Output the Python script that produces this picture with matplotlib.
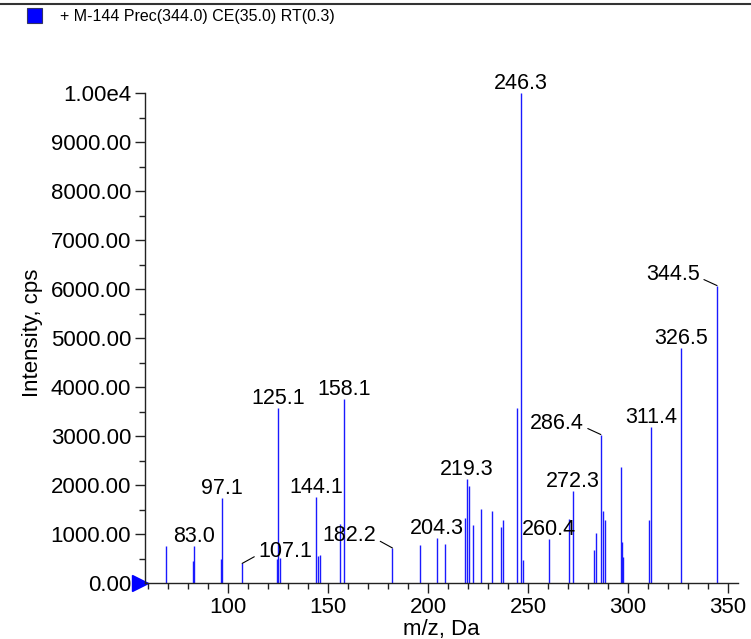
import matplotlib
matplotlib.use('Agg')
import matplotlib.pyplot as plt
from matplotlib.patches import Rectangle
from matplotlib.ticker import MultipleLocator, FuncFormatter
from matplotlib import font_manager
import matplotlib.transforms as mtransforms

plt.rcParams['font.family'] = ['Liberation Sans', 'DejaVu Sans']

# peak list (m/z, intensity in cps)
mz = [69.1, 82.7, 83.0, 96.3, 97.1, 107.1, 124.3, 125.1, 126.1, 144.1,
      145.0, 146.0, 155.9, 158.1, 182.2, 196.1, 204.3, 208.4, 218.5, 219.3,
      220.3, 222.3, 226.4, 232.2, 236.4, 237.4, 244.3, 246.3, 247.3, 260.4,
      270.3, 272.3, 283.2, 284.2, 286.4, 287.4, 288.5, 296.3, 297.0, 297.6,
      310.4, 311.4, 326.5, 344.5]
intensity = [750, 440, 760, 500, 1730, 400, 500, 3580, 510, 1755,
             545, 580, 1200, 3755, 715, 780, 925, 790, 1320, 2120,
             1970, 1190, 1515, 1465, 1145, 1295, 3570, 10000, 475, 900,
             1300, 1885, 665, 1015, 3030, 1475, 1295, 2365, 845, 525,
             1295, 3185, 4795, 6070]

# labelled peaks, plain ones sit straight above the line
labels = [83.0, 97.1, 125.1, 144.1, 158.1, 204.3, 219.3, 246.3, 260.4, 272.3, 311.4, 326.5]
# labels pushed aside with a leader line: (m/z, dx px, dy px)
leader_labels = [(107.1, 43, 12), (182.2, -43, 12), (286.4, -44, 11), (344.5, -44, 11)]

title = '+ M-144 Prec(344.0) CE(35.0) RT(0.3)'

# the scan name is set in a narrow face when there is one
names = {f.name for f in font_manager.fontManager.ttflist}
if 'Liberation Sans Narrow' in names:
    title_font, title_size = 'Liberation Sans Narrow', 13
else:
    title_font, title_size = 'Liberation Sans', 11.5

W, H = 751, 639
fig = plt.figure(figsize=(W / 100, H / 100), dpi=100)
ax = fig.add_axes([145 / W, (H - 583) / H, (738 - 145) / W, (583 - 93) / H])

ax.vlines(mz, 0, intensity, colors='#1a1aff', linewidth=1.0)

ax.set_xlim(58.5, 355)
ax.set_ylim(0, 10000)

for s in ['top', 'right']:
    ax.spines[s].set_visible(False)
for s in ['left', 'bottom']:
    ax.spines[s].set_linewidth(1.0)
    ax.spines[s].set_color('#222222')

ax.xaxis.set_major_locator(MultipleLocator(50))
ax.xaxis.set_minor_locator(MultipleLocator(10))
ax.yaxis.set_major_locator(MultipleLocator(1000))
ax.yaxis.set_minor_locator(MultipleLocator(500))
ax.yaxis.set_major_formatter(FuncFormatter(lambda v, p: '1.00e4' if v >= 10000 else '%.2f' % v))
ax.tick_params(which='major', length=7, width=1, labelsize=16, color='#222222')
ax.tick_params(which='minor', length=4, width=1, color='#222222')
ax.tick_params(axis='x', pad=3)
ax.tick_params(axis='y', pad=3)

ax.set_xlabel('m/z, Da', fontsize=16, labelpad=1)
ax.set_ylabel('Intensity, cps', fontsize=16)
ax.yaxis.set_label_coords(-0.172, 0.51)

lookup = dict(zip(mz, intensity))
for m in labels:
    ax.annotate('%.1f' % m, (m, lookup[m]), xytext=(0, 4), textcoords='offset pixels',
                ha='center', va='baseline', fontsize=15.5, annotation_clip=False)
for m, dx, dy in leader_labels:
    rp = (0, 0.35) if dx > 0 else (1, 0.35)
    ax.annotate('%.1f' % m, (m, lookup[m]), xytext=(dx, dy), textcoords='offset pixels',
                ha='center', va='center', fontsize=15.5, annotation_clip=False,
                arrowprops=dict(arrowstyle='-', color='black', lw=0.8,
                                shrinkA=1, shrinkB=0, relpos=rp))

# blue marker at the zero line
tr = mtransforms.offset_copy(ax.transData, fig=fig, x=-5, y=0, units='dots')
ax.plot([58.5], [0], marker='>', color='#0000ff', markersize=11, transform=tr, clip_on=False)

# header strip: rule, colour box and scan name
fig.add_artist(plt.Line2D([0, 1], [1 - 4 / H, 1 - 4 / H], color='#333333', lw=1.5))
fig.add_artist(Rectangle((27 / W, 1 - 23 / H), 15 / W, 15 / H, facecolor='#0000ff',
                         edgecolor='#333366', lw=0.8))
fig.text(60 / W, 1 - 16 / H, title, fontsize=title_size, family=title_font,
         va='center', ha='left')

fig.savefig('out.png', dpi=100)
